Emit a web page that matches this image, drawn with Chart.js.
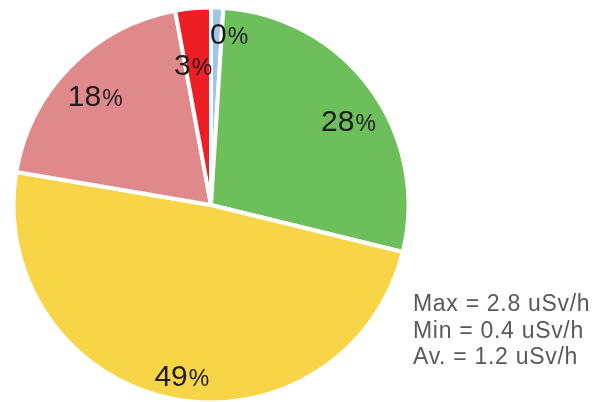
<!DOCTYPE html>
<html>
<head>
<meta charset="utf-8">
<script src="https://cdn.jsdelivr.net/npm/chart.js@4/dist/chart.umd.min.js"></script>
<style>
    body { margin: 0; background: #fff; }
    #wrap { position: relative; width: 608px; height: 402px; }
    #stats {
        position: absolute; left: 413px; top: 290px;
        font-family: "Liberation Sans", Arial, sans-serif;
        font-size: 23px; line-height: 26.5px; letter-spacing: 0.7px; color: #58595b;
        white-space: nowrap;
    }
</style>
</head>
<body>
<div id="wrap">
    <canvas id="pie" width="608" height="402"></canvas>
    <div id="stats"></div>
</div>
<script>
// slice values (share of the circle)
const categories = ['blue', 'green', 'yellow', 'pink', 'red'];
const sliceValues = [1.0, 27.8, 48.8, 19.4, 2.9];
const sliceLabels = ['0', '28', '49', '18', '3'];
const sliceColors = ['#9fc5e8', '#6dbf5b', '#f8d447', '#e0898a', '#ed1f24'];
const statLines = ['Max = 2.8 uSv/h', 'Min = 0.4 uSv/h', 'Av. = 1.2 uSv/h'];

// where each label sits: fraction of radius, nudge in degrees from the slice middle
const labelRadius = [0.877, 0.815, 0.874, 0.81, 0.72];
const labelNudge = [4.0, 4.6, -1.8, -1.2, -2.2];

document.getElementById('stats').innerHTML = statLines.join('<br>');

const pctLabels = {
    id: 'pctLabels',
    afterDatasetsDraw(chart) {
        const ctx = chart.ctx;
        const arcs = chart.getDatasetMeta(0).data;
        ctx.save();
        ctx.fillStyle = '#1e1c1d';
        ctx.textBaseline = 'alphabetic';
        ctx.textAlign = 'left';
        arcs.forEach((arc, i) => {
            const mid = (arc.startAngle + arc.endAngle) / 2 + labelNudge[i] * Math.PI / 180;
            const r = arc.outerRadius * labelRadius[i];
            const x = arc.x + Math.cos(mid) * r;
            const y = arc.y + Math.sin(mid) * r;
            ctx.font = '30px "Liberation Sans", Arial, sans-serif';
            const numW = ctx.measureText(sliceLabels[i]).width;
            ctx.font = '23px "Liberation Sans", Arial, sans-serif';
            const pctW = ctx.measureText('%').width;
            const left = x - (numW + pctW) / 2;
            const base = y + 11;
            ctx.font = '30px "Liberation Sans", Arial, sans-serif';
            ctx.fillText(sliceLabels[i], left, base);
            ctx.font = '23px "Liberation Sans", Arial, sans-serif';
            ctx.fillText('%', left + numW + 1, base);
        });
        ctx.restore();
    }
};

new Chart(document.getElementById('pie'), {
    type: 'pie',
    data: {
        labels: categories,
        datasets: [{
            data: sliceValues,
            backgroundColor: sliceColors,
            borderColor: '#ffffff',
            borderWidth: 4,
            hoverOffset: 0
        }]
    },
    options: {
        responsive: false,
        animation: false,
        radius: 197.5,
        layout: { padding: { left: 0, right: 186, top: 8, bottom: 0 } },
        plugins: {
            legend: { display: false },
            tooltip: { enabled: false }
        }
    },
    plugins: [pctLabels]
});
</script>
</body>
</html>
